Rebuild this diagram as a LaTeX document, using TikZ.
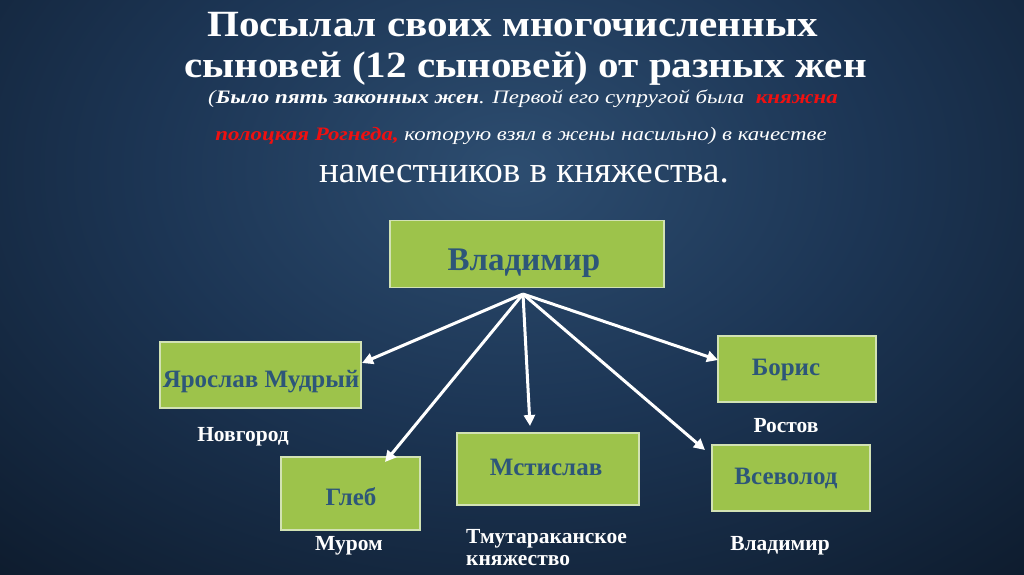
\documentclass[tikz,border=0pt]{standalone}
\usepackage{fontspec}
\setmainfont{Liberation Serif}
\usetikzlibrary{arrows.meta}
\definecolor{bgc}{HTML}{2D4D70}
\definecolor{bgm}{HTML}{1C3554}
\definecolor{bgd}{HTML}{0E1C2E}
\definecolor{bge}{HTML}{08111D}
\definecolor{boxfill}{HTML}{9DC34B}
\definecolor{boxline}{HTML}{D2E2B4}
\definecolor{boxtxt}{HTML}{2D5679}
\definecolor{redtxt}{HTML}{F01010}
\pgfdeclareradialshading{bgshade}{\pgfpoint{0bp}{0bp}}{color(0bp)=(bgc); color(14bp)=(bgm); color(30bp)=(bgd); color(50bp)=(bge)}
\tikzset{
  box/.style={draw=boxline, line width=1.2pt, fill=boxfill, inner sep=0pt},
  boxtext/.style={text=boxtxt, font=\bfseries\fontsize{25}{25}\selectfont, anchor=base, inner sep=0pt},
  place/.style={text=white, font=\bfseries\fontsize{21.5}{21.5}\selectfont, anchor=base, inner sep=0pt},
  titleline/.style={text=white, font=\bfseries\fontsize{37}{37}\selectfont, anchor=base, inner sep=0pt},
  noteline/.style={text=white, font=\itshape\fontsize{19}{19}\selectfont, anchor=base, inner sep=0pt},
  arr/.style={draw=white, line width=3pt, -{Triangle[length=11pt,width=11pt]}}
}
\begin{document}
\begin{tikzpicture}[x=1pt,y=-1pt]
\useasboundingbox (0,0) rectangle (1024,574);
\begin{scope}
\clip (0,0) rectangle (1024,574);
\shade[shading=bgshade] (-138,-280) rectangle (1162,620);
\end{scope}
% title
\node[titleline] (t1) at (512.5,36) {\scalebox{1.11}[1]{Посылал своих многочисленных}};
\node[titleline] (t2) at (525.5,77) {\scalebox{1.11}[1]{сыновей (12 сыновей) от разных жен}};
\node[noteline] (t3) at (523,103) {\scalebox{1.205}[1]{(\textbf{Было пять законных жен}. Первой его супругой была\ \ \textcolor{redtxt}{\textbf{княжна}}}};
\node[noteline] (t4) at (521,140) {\scalebox{1.205}[1]{\textcolor{redtxt}{\textbf{полоцкая Рогнеда,}} которую взял в жены насильно) в качестве}};
\node[text=white, font=\fontsize{37}{37}\selectfont, anchor=base, inner sep=0pt] (t5) at (524,182) {наместников в княжества.};
% boxes
\node[box, minimum width=274pt, minimum height=67pt] (vlad) at (527,254) {};
\node[boxtext, font=\bfseries\fontsize{33}{33}\selectfont] (vladt) at (524,270) {Владимир};
\node[box, minimum width=201pt, minimum height=66pt] (yar) at (260.5,375) {};
\node[boxtext] (yart) at (261,387) {Ярослав Мудрый};
\node[box, minimum width=158pt, minimum height=66pt] (bor) at (797,369) {};
\node[boxtext] (bort) at (786,375) {Борис};
\node[box, minimum width=139pt, minimum height=73pt] (gleb) at (350.5,493.5) {};
\node[boxtext] (glebt) at (351,505) {Глеб};
\node[box, minimum width=182pt, minimum height=72pt] (mst) at (548,469) {};
\node[boxtext] (mstt) at (546,475) {Мстислав};
\node[box, minimum width=158pt, minimum height=66pt] (vsev) at (791,478) {};
\node[boxtext] (vsevt) at (786,484) {Всеволод};
% places
\node[place] (nov) at (243,441) {Новгород};
\node[place] (ros) at (786,432) {Ростов};
\node[place] (mur) at (349,550) {Муром};
\node[place, anchor=base west] (tmu1) at (466,543) {Тмутараканское};
\node[place, anchor=base west] (tmu2) at (466,565) {княжество};
\node[place] (vlpl) at (780,550) {Владимир};
% arrows
\coordinate (hub) at (523,294);
\coordinate (tyar) at (362,363);
\coordinate (tgleb) at (385,462);
\coordinate (tmst) at (530,426);
\coordinate (tvsev) at (705,450);
\coordinate (tbor) at (718,360);
\draw[arr] (hub) -- (tyar);
\draw[arr] (hub) -- (tgleb);
\draw[arr] (hub) -- (tmst);
\draw[arr] (hub) -- (tvsev);
\draw[arr] (hub) -- (tbor);
\end{tikzpicture}
\end{document}
